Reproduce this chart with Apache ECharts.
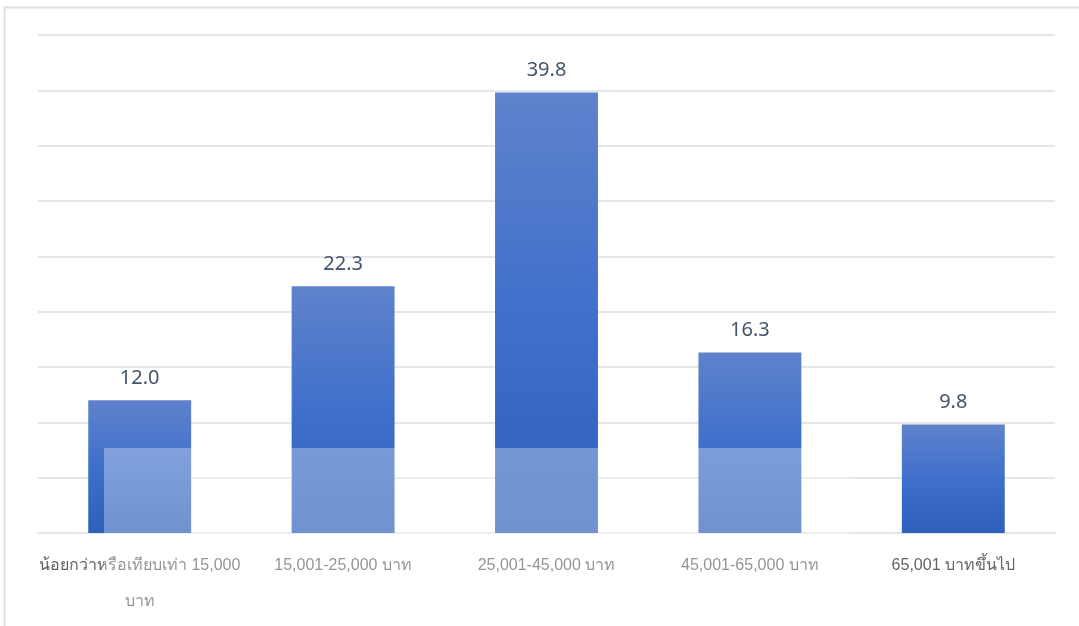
<!DOCTYPE html>
<html>
<head>
<meta charset="utf-8">
<style>
html,body{margin:0;padding:0;background:#fff;}
#chart{width:1079px;height:626px;}
</style>
<script src="https://cdn.jsdelivr.net/npm/echarts@6/dist/echarts.min.js"></script>
</head>
<body>
<div id="chart"></div>
<script>
const categories = [
  'น้อยกว่าหรือเทียบเท่า 15,000\nบาท',
  '15,001-25,000 บาท',
  '25,001-45,000 บาท',
  '45,001-65,000 บาท',
  '65,001 บาทขึ้นไป'
];
const values = [12.0, 22.3, 39.8, 16.3, 9.8];
const axisMax = 45;
const axisInterval = 5;

const chart = echarts.init(document.getElementById('chart'));
chart.setOption({
  backgroundColor: '#ffffff',
  animation: false,
  grid: { left: 38, right: 24, top: 35, bottom: 93, containLabel: false },
  xAxis: {
    type: 'category',
    data: categories,
    axisLine: { show: true, lineStyle: { color: '#e3e6ea', width: 2 } },
    axisTick: { show: false },
    axisLabel: {
      color: '#636363',
      fontSize: 16,
      fontFamily: 'Liberation Sans, Noto Sans, sans-serif',
      margin: 15,
      lineHeight: 36,
      interval: 0
    }
  },
  yAxis: {
    type: 'value',
    min: 0,
    max: axisMax,
    interval: axisInterval,
    axisLine: { show: false },
    axisTick: { show: false },
    axisLabel: { show: false },
    splitLine: { lineStyle: { color: '#e3e6ea', width: 2 } }
  },
  series: [{
    type: 'bar',
    data: values,
    barWidth: '50.6%',
    itemStyle: {
      color: new echarts.graphic.LinearGradient(0, 0, 0, 1, [
        { offset: 0, color: '#5f82cb' },
        { offset: 0.5, color: '#3f70cb' },
        { offset: 1, color: '#2d5fbb' }
      ])
    },
    label: {
      show: true,
      position: 'top',
      distance: 12,
      color: '#44546a',
      fontSize: 20,
      fontFamily: 'Noto Sans, Liberation Sans, sans-serif',
      formatter: function (p) { return p.value.toFixed(1); }
    }
  }],
  graphic: [
    {
      type: 'rect',
      left: 2, top: 5, z: 100,
      shape: { width: 1200, height: 700 },
      style: { fill: 'none', stroke: '#dde1e6', lineWidth: 2 }
    },
    {
      type: 'rect',
      left: 104, top: 448, z: 100,
      shape: { width: 746, height: 178 },
      style: { fill: 'rgba(255,255,255,0.32)' }
    }
  ]
});
</script>
</body>
</html>
